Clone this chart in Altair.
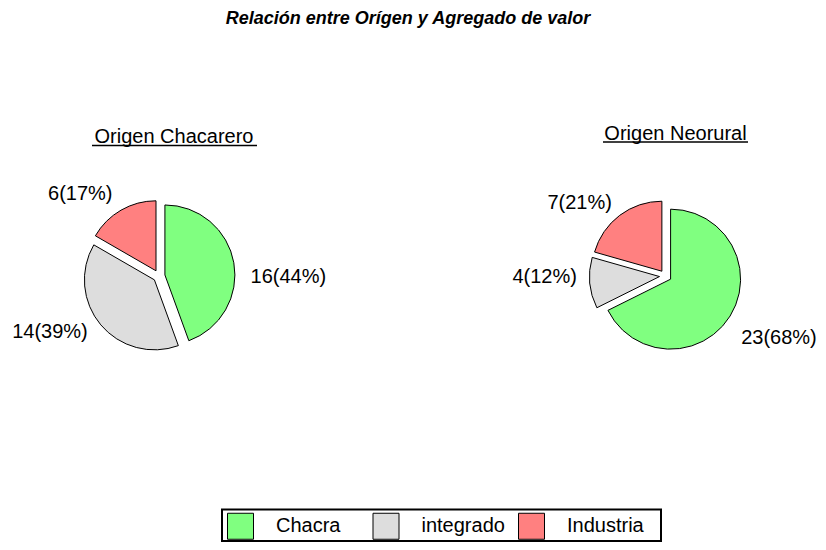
import altair as alt
import pandas as pd

# ---- data ----
categories = ["Chacra", "integrado", "Industria"]
colors = ["#80ff80", "#dddddd", "#ff8080"]
chacarero_values = [16, 14, 6]
neorural_values = [23, 4, 7]
pie_titles = ["Origen Chacarero", "Origen Neorural"]
main_title = "Relación entre Orígen y Agregado de valor"

# ---- layout constants (page pixels) ----
FONT = "Liberation Sans"
M = 8          # page margin
R = 70         # pie radius
E = 6          # explosion offset

legend = alt.Legend(
    title=None, orient="none", legendX=224 - M, legendY=509.5 - M,
    direction="horizontal", columns=3, gridAlign="all",
    symbolType="square", symbolSize=676, symbolStrokeColor="black",
    symbolStrokeWidth=1, symbolOpacity=1,
    labelFont=FONT, labelFontSize=20, labelColor="black", labelOffset=22,
    columnPadding=10.5, padding=3,
)


def pie_layers(values, cx, cy, lr):
    df = pd.DataFrame({"cat": categories, "value": values,
                       "order": list(range(len(values)))})
    base = (
        alt.Chart(df)
        .transform_joinaggregate(total="sum(value)")
        .transform_window(s1="sum(value)", sort=[alt.SortField("order")],
                          frame=[None, 0])
        .transform_calculate(a0="2*PI*(datum.s1-datum.value)/datum.total")
        .transform_calculate(a1="2*PI*datum.s1/datum.total")
        .transform_calculate(mid="(datum.a0+datum.a1)/2")
        .transform_calculate(px=f"{cx - M} + {E}*sin(datum.mid)")
        .transform_calculate(py=f"{cy - M} - {E}*cos(datum.mid)")
        .transform_calculate(lx=f"{cx - M} + {lr}*sin(datum.mid)")
        .transform_calculate(ly=f"{cy - M + 5} - {lr}*cos(datum.mid) + 12*sin(datum.mid)")
        .transform_calculate(
            label="datum.value + '(' + round(100*datum.value/datum.total) + '%)'")
    )
    arcs = base.mark_arc(radius=R, stroke="black", strokeWidth=1).encode(
        x=alt.X("px:Q", scale=None, axis=None),
        y=alt.Y("py:Q", scale=None, axis=None),
        theta=alt.Theta("a0:Q", scale=None),
        theta2="a1:Q",
        color=alt.Color("cat:N", scale=alt.Scale(domain=categories, range=colors),
                        legend=legend),
    )
    right = base.transform_filter("sin(datum.mid) >= 0").mark_text(
        align="left", baseline="middle", font=FONT, fontSize=20, color="black"
    ).encode(x=alt.X("lx:Q", scale=None, axis=None),
             y=alt.Y("ly:Q", scale=None, axis=None), text="label:N")
    left = base.transform_filter("sin(datum.mid) < 0").mark_text(
        align="right", baseline="middle", font=FONT, fontSize=20, color="black"
    ).encode(x=alt.X("lx:Q", scale=None, axis=None),
             y=alt.Y("ly:Q", scale=None, axis=None), text="label:N")
    return [arcs, right, left]


title_layer = alt.Chart(pd.DataFrame({"t": [main_title]})).mark_text(
    font=FONT, fontSize=18, fontWeight="bold", fontStyle="italic",
    align="center", baseline="alphabetic", color="black"
).encode(x=alt.value(408 - M), y=alt.value(23.5 - M), text="t:N")


def subtitle(text, cx, base_y, x0, x1):
    t = alt.Chart(pd.DataFrame({"t": [text]})).mark_text(
        font=FONT, fontSize=20, align="center", baseline="alphabetic", color="black"
    ).encode(x=alt.value(cx - M), y=alt.value(base_y - M), text="t:N")
    u = alt.Chart(pd.DataFrame({"t": [text]})).mark_rule(
        color="black", strokeWidth=1.5
    ).encode(x=alt.value(x0 - M), x2=alt.value(x1 - M), y=alt.value(base_y + 2.5 - M))
    return [t, u]


# legend frame
legend_box = alt.Chart(pd.DataFrame({"t": ["box"]})).mark_rect(
    fill="white", stroke="black", strokeWidth=2
).encode(x=alt.value(222 - M), x2=alt.value(661 - M),
         y=alt.value(509.5 - M), y2=alt.value(541 - M))

layers = (
    [title_layer, legend_box]
    + subtitle(pie_titles[0], 174, 143, 92, 257)
    + subtitle(pie_titles[1], 675.5, 139.5, 603, 748)
    + pie_layers(chacarero_values, 159, 276, 93)
    + pie_layers(neorural_values, 665.5, 276, 89)
)

chart = alt.layer(*layers).properties(
    width=826 - 2 * M, height=550 - 2 * M,
    autosize=alt.AutoSizeParams(type="none"), padding=0,
    background="white",
).configure_view(stroke=None)

chart.save("out.html", embed_options={"renderer": "svg", "actions": False})
